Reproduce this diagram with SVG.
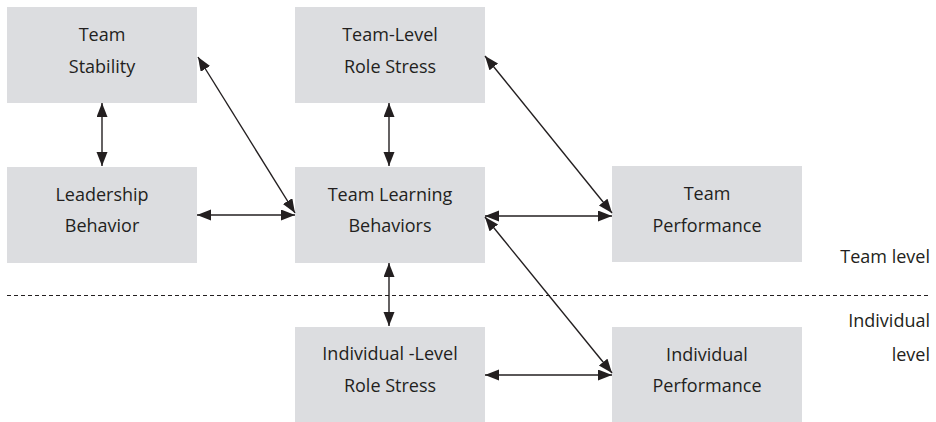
<svg xmlns="http://www.w3.org/2000/svg" width="936" height="422" viewBox="0 0 936 422">
  <style>
    .box { fill: #dcdde0; }
    .lbl { font-family: "Open Sans", "Liberation Sans", sans-serif; font-size: 18px; fill: #231f20; text-anchor: middle; }
    .side { font-family: "Open Sans", "Liberation Sans", sans-serif; font-size: 18px; fill: #231f20; text-anchor: end; }
    .link { stroke: #231f20; stroke-width: 1.4; fill: none; marker-start: url(#head); marker-end: url(#head); }
    .divider { stroke: #231f20; stroke-width: 1.2; stroke-dasharray: 4 3; fill: none; }
  </style>
  <defs>
    <marker id="head" markerUnits="userSpaceOnUse" markerWidth="15" markerHeight="12" refX="14" refY="5.5" orient="auto-start-reverse">
      <path d="M0,0 L14,5.5 L0,11 z" fill="#231f20"/>
    </marker>
  </defs>

  <rect width="936" height="422" fill="#ffffff"/>

  <!-- level divider and level captions -->
  <line class="divider" x1="7" y1="295.5" x2="931" y2="295.5"/>
  <text class="side" x="930" y="263">Team level</text>
  <text class="side" x="930" y="327">Individual</text>
  <text class="side" x="930" y="361">level</text>

  <g id="team-stability">
    <rect class="box" x="7" y="7" width="190" height="96"/>
    <text class="lbl" x="102" y="41">Team</text>
    <text class="lbl" x="102" y="73">Stability</text>
  </g>

  <g id="team-level-role-stress">
    <rect class="box" x="295" y="7" width="190" height="96"/>
    <text class="lbl" x="390" y="41">Team-Level</text>
    <text class="lbl" x="390" y="73">Role Stress</text>
  </g>

  <g id="leadership-behavior">
    <rect class="box" x="7" y="167" width="190" height="96"/>
    <text class="lbl" x="102" y="201">Leadership</text>
    <text class="lbl" x="102" y="232">Behavior</text>
  </g>

  <g id="team-learning-behaviors">
    <rect class="box" x="295" y="167" width="190" height="96"/>
    <text class="lbl" x="390" y="201">Team Learning</text>
    <text class="lbl" x="390" y="232">Behaviors</text>
  </g>

  <g id="team-performance">
    <rect class="box" x="612" y="166" width="190" height="96"/>
    <text class="lbl" x="707" y="200">Team</text>
    <text class="lbl" x="707" y="232">Performance</text>
  </g>

  <g id="individual-level-role-stress">
    <rect class="box" x="295" y="327" width="190" height="96"/>
    <text class="lbl" x="390" y="360">Individual -Level</text>
    <text class="lbl" x="390" y="392">Role Stress</text>
  </g>

  <g id="individual-performance">
    <rect class="box" x="612" y="327" width="190" height="96"/>
    <text class="lbl" x="707" y="361">Individual</text>
    <text class="lbl" x="707" y="392">Performance</text>
  </g>

  <g id="connectors">
    <line class="link" x1="102" y1="103" x2="102" y2="166"/>
    <line class="link" x1="389" y1="103" x2="389" y2="166"/>
    <line class="link" x1="389" y1="263" x2="389" y2="326"/>
    <line class="link" x1="197" y1="215" x2="295" y2="215"/>
    <line class="link" x1="485" y1="216" x2="612" y2="216"/>
    <line class="link" x1="485" y1="375" x2="612" y2="375"/>
    <line class="link" x1="198" y1="57" x2="295" y2="213"/>
    <line class="link" x1="485" y1="56" x2="612" y2="213"/>
    <line class="link" x1="485" y1="217" x2="612" y2="373"/>
  </g>
</svg>
